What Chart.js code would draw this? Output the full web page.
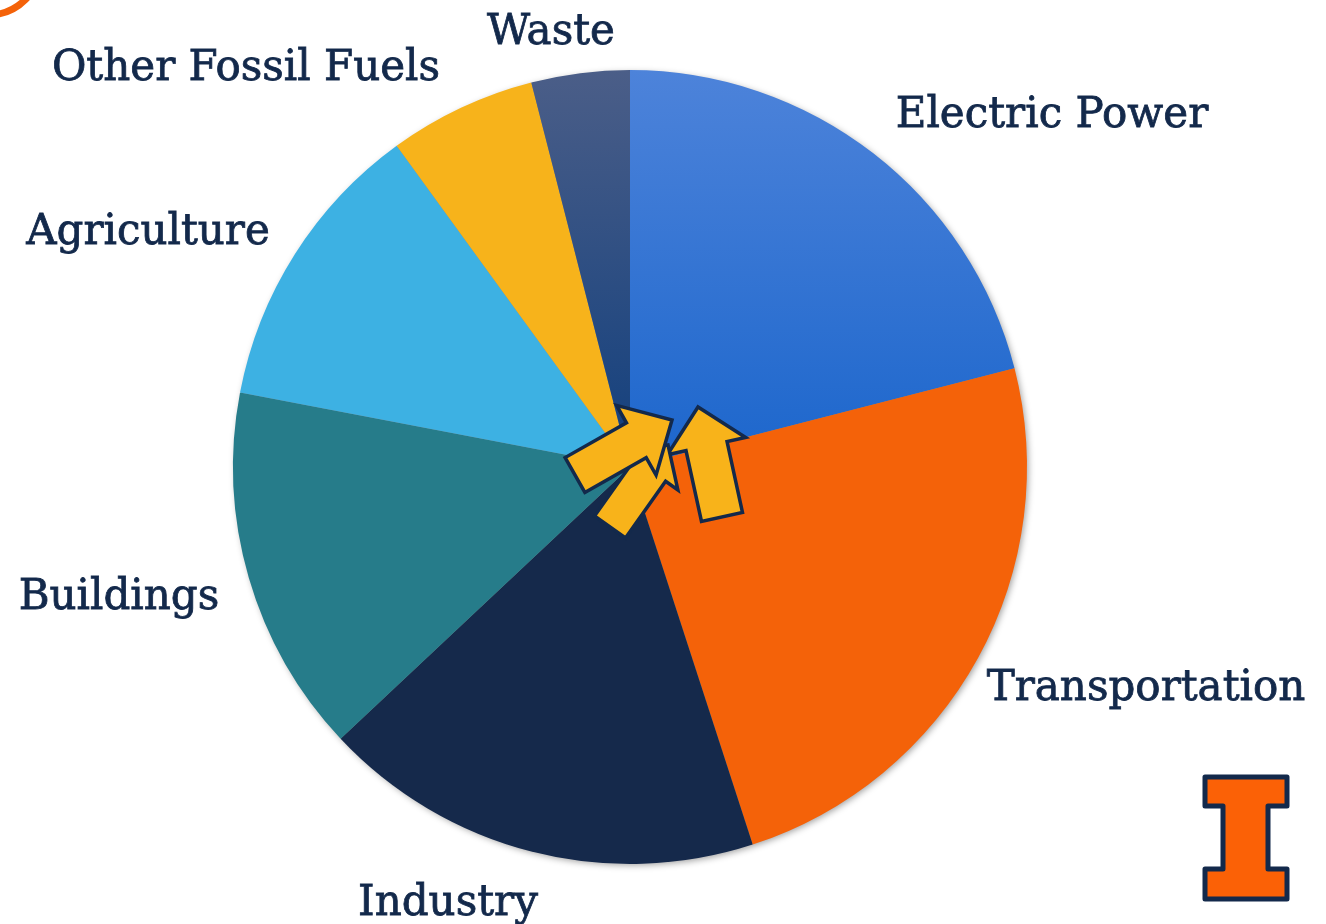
<!DOCTYPE html>
<html>
<head>
<meta charset="utf-8">
<script src="https://cdn.jsdelivr.net/npm/chart.js@4.4.1/dist/chart.umd.min.js"></script>
<style>
  html, body { margin: 0; padding: 0; background: #fff; }
  #wrap { width: 1326px; height: 924px; position: relative; }
</style>
</head>
<body>
<div id="wrap"><canvas id="pie"></canvas></div>
<script>
// emissions share by sector (%), clockwise from 12 o'clock
const sectors = ['Electric Power', 'Transportation', 'Industry', 'Buildings', 'Agriculture', 'Other Fossil Fuels', 'Waste'];
const shares = [21, 24, 18, 15, 12, 6, 4];
const sliceColors = ['#1f68cc', '#f46209', '#15294b', '#267c8a', '#3db1e3', '#f7b31b', '#143f7c'];

const navy = '#13294b';

// label anchors (text centre x, baseline y)
const labelSpots = [[1052, 127], [1146, 700], [448, 915], [119, 609], [148, 244], [246, 80], [551, 44]];

// yellow arrows, offsets from the pie centre: tail, tip, body width, head width, head length
const arrows = [
    [[92, 50], [68, -60], 42, 80, 40],
    [[-20, 60], [38, -22], 38, 68, 31],
    [[-55, 8], [42, -47], 40, 80, 41]
];

function gradientFill(ctx, area, top, bottom) {
    const g = ctx.createLinearGradient(0, area.top, 0, (area.top + area.bottom) / 2);
    g.addColorStop(0, top);
    g.addColorStop(1, bottom);
    return g;
}

function arrowPath(ctx, cx, cy, a) {
    const [tail, tip, bw, hw, hl] = a;
    const tx = cx + tail[0], ty = cy + tail[1];
    const px = cx + tip[0], py = cy + tip[1];
    const len = Math.hypot(px - tx, py - ty);
    const ux = (px - tx) / len, uy = (py - ty) / len;
    const nx = -uy, ny = ux;
    const bx = px - ux * hl, by = py - uy * hl;
    ctx.beginPath();
    ctx.moveTo(tx + nx * bw / 2, ty + ny * bw / 2);
    ctx.lineTo(bx + nx * bw / 2, by + ny * bw / 2);
    ctx.lineTo(bx + nx * hw / 2, by + ny * hw / 2);
    ctx.lineTo(px, py);
    ctx.lineTo(bx - nx * hw / 2, by - ny * hw / 2);
    ctx.lineTo(bx - nx * bw / 2, by - ny * bw / 2);
    ctx.lineTo(tx - nx * bw / 2, ty - ny * bw / 2);
    ctx.closePath();
}

const decorations = {
    id: 'decorations',
    beforeDatasetsDraw(chart) {
        // soft shadow under the pie
        const arc = chart.getDatasetMeta(0).data[0];
        const ctx = chart.ctx;
        ctx.save();
        ctx.shadowColor = 'rgba(0,0,0,0.4)';
        ctx.shadowBlur = 7;
        ctx.shadowOffsetX = 2;
        ctx.shadowOffsetY = 2;
        ctx.fillStyle = '#888';
        ctx.beginPath();
        ctx.arc(arc.x, arc.y, arc.outerRadius - 1, 0, Math.PI * 2);
        ctx.fill();
        ctx.restore();
    },
    afterDatasetsDraw(chart) {
        const ctx = chart.ctx;
        const arc = chart.getDatasetMeta(0).data[0];
        const cx = arc.x, cy = arc.y;

        ctx.save();
        ctx.lineJoin = 'miter';
        ctx.lineWidth = 3.5;
        ctx.strokeStyle = navy;
        ctx.fillStyle = '#f8b31a';
        arrows.forEach(a => {
            arrowPath(ctx, cx, cy, a);
            ctx.fill();
            ctx.stroke();
        });
        ctx.restore();

        // sector names
        ctx.save();
        ctx.fillStyle = navy;
        ctx.strokeStyle = navy;
        ctx.lineWidth = 0.8;
        ctx.font = '42px "DejaVu Serif"';
        ctx.textAlign = 'center';
        ctx.textBaseline = 'alphabetic';
        sectors.forEach((s, i) => {
            ctx.fillText(s, labelSpots[i][0], labelSpots[i][1]);
            ctx.strokeText(s, labelSpots[i][0], labelSpots[i][1]);
        });
        ctx.restore();

        // orange ring in the corner
        ctx.save();
        ctx.strokeStyle = '#f46209';
        ctx.lineWidth = 7;
        ctx.beginPath();
        ctx.arc(-12, -38, 53, 0, Math.PI * 2);
        ctx.stroke();
        ctx.restore();

        // block I logo
        ctx.save();
        ctx.fillStyle = '#fb6106';
        ctx.strokeStyle = navy;
        ctx.lineWidth = 5;
        ctx.lineJoin = 'round';
        ctx.beginPath();
        ctx.moveTo(1205, 777);
        ctx.lineTo(1287, 777);
        ctx.lineTo(1287, 806);
        ctx.lineTo(1268, 806);
        ctx.lineTo(1268, 869);
        ctx.lineTo(1287, 869);
        ctx.lineTo(1287, 899);
        ctx.lineTo(1205, 899);
        ctx.lineTo(1205, 869);
        ctx.lineTo(1223, 869);
        ctx.lineTo(1223, 806);
        ctx.lineTo(1205, 806);
        ctx.closePath();
        ctx.fill();
        ctx.stroke();
        ctx.restore();
    }
};

const canvas = document.getElementById('pie');
new Chart(canvas, {
    type: 'pie',
    data: {
        labels: sectors,
        datasets: [{
            data: shares,
            borderWidth: 0,
            backgroundColor: ctx => {
                const chart = ctx.chart;
                const area = chart.chartArea;
                if (!area) return sliceColors[ctx.dataIndex];
                if (ctx.dataIndex === 0) return gradientFill(chart.ctx, area, '#4d83da', '#1c66cc');
                if (ctx.dataIndex === 6) return gradientFill(chart.ctx, area, '#4b5e88', '#113f7d');
                return sliceColors[ctx.dataIndex];
            }
        }]
    },
    options: {
        responsive: true,
        maintainAspectRatio: false,
        animation: false,
        layout: { padding: { top: 70, bottom: 60, left: 233, right: 299 } },
        plugins: {
            legend: { display: false },
            tooltip: { enabled: false }
        }
    },
    plugins: [decorations]
});
</script>
</body>
</html>
